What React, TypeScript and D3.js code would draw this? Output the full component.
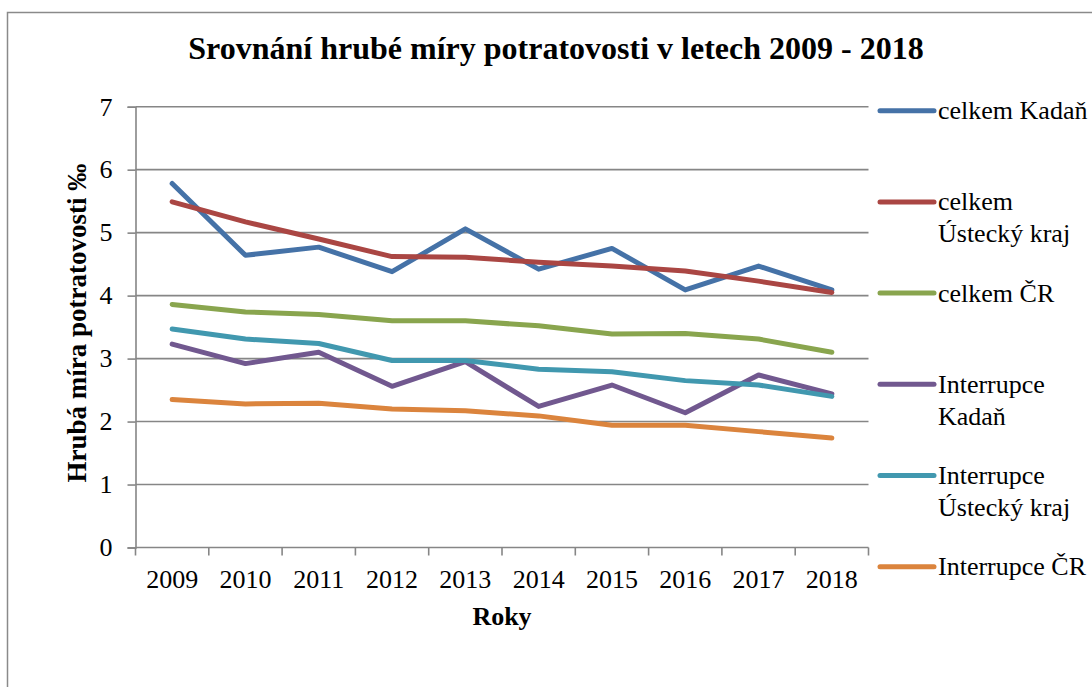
import React, { useEffect, useRef } from 'react';
import * as d3 from 'd3';

// data
const years = ['2009', '2010', '2011', '2012', '2013', '2014', '2015', '2016', '2017', '2018'];
const celkemKadan = [5.78, 4.64, 4.77, 4.38, 5.06, 4.42, 4.75, 4.09, 4.47, 4.09];
const celkemUstecky = [5.49, 5.17, 4.9, 4.62, 4.61, 4.53, 4.47, 4.39, 4.23, 4.05];
const celkemCR = [3.86, 3.74, 3.7, 3.6, 3.6, 3.52, 3.39, 3.4, 3.31, 3.1];
const interKadan = [3.23, 2.92, 3.1, 2.56, 2.95, 2.24, 2.58, 2.14, 2.74, 2.44];
const interUstecky = [3.47, 3.31, 3.24, 2.97, 2.97, 2.83, 2.79, 2.65, 2.58, 2.4];
const interCR = [2.35, 2.28, 2.29, 2.2, 2.17, 2.09, 1.94, 1.94, 1.84, 1.74];
const yTicks = [0, 1, 2, 3, 4, 5, 6, 7];

const seriesNames = [
  ['celkem Kadaň'],
  ['celkem', 'Ústecký kraj'],
  ['celkem ČR'],
  ['Interrupce', 'Kadaň'],
  ['Interrupce', 'Ústecký kraj'],
  ['Interrupce ČR'],
];
const seriesValues = [celkemKadan, celkemUstecky, celkemCR, interKadan, interUstecky, interCR];
const colors = ['#4572A7', '#AA4643', '#89A54E', '#71588F', '#4198AF', '#DB843D'];

const FONT = "'Liberation Serif', 'Times New Roman', serif";
const W = 1092, H = 687;

const Chart = () => {
  const ref = useRef<SVGSVGElement>(null);

  useEffect(() => {
    const svg = d3.select(ref.current);
    svg.selectAll('*').remove();

    const left = 135.5, right = 868.5, top = 106.7, bottom = 547.5;
    const axisColor = '#868686';

    // outer frame of the chart area (runs off the page on the right and bottom)
    svg.append('rect')
      .attr('x', 7.5).attr('y', 12.5)
      .attr('width', W + 20).attr('height', H + 20)
      .attr('fill', '#fff')
      .attr('stroke', '#8a8a8a').attr('stroke-width', 1.5);

    const xScale = d3.scaleBand().domain(years).range([left, right]);
    const yScale = d3.scaleLinear().domain([0, 7]).range([bottom, top]);

    // gridlines
    svg.append('g')
      .selectAll('line')
      .data(yTicks.filter(d => d > 0))
      .enter()
      .append('line')
      .attr('x1', left).attr('x2', right)
      .attr('y1', d => yScale(d)).attr('y2', d => yScale(d))
      .attr('stroke', axisColor).attr('stroke-width', 1.6);

    // y axis
    const yAxis = svg.append('g')
      .attr('transform', `translate(${left},0)`)
      .call(d3.axisLeft(yScale).tickValues(yTicks).tickFormat(d3.format('d')).tickSize(8).tickPadding(15));
    yAxis.select('.domain').attr('stroke', axisColor).attr('stroke-width', 1.6);
    yAxis.selectAll('.tick line').attr('stroke', axisColor).attr('stroke-width', 1.6);
    yAxis.selectAll('.tick text')
      .attr('font-family', FONT).attr('font-size', 26).attr('fill', '#000');

    // x axis, ticks between categories
    const xAxis = svg.append('g')
      .attr('transform', `translate(0,${bottom})`)
      .call(d3.axisBottom(xScale).tickSize(0).tickPadding(22));
    xAxis.select('.domain').remove();
    xAxis.selectAll('.tick text')
      .attr('font-family', FONT).attr('font-size', 26).attr('fill', '#000');
    svg.append('line')
      .attr('x1', left).attr('x2', right).attr('y1', bottom).attr('y2', bottom)
      .attr('stroke', axisColor).attr('stroke-width', 1.6);
    svg.append('g')
      .selectAll('line')
      .data(years.map((y, i) => i).concat([years.length]))
      .enter()
      .append('line')
      .attr('x1', i => left + i * xScale.step()).attr('x2', i => left + i * xScale.step())
      .attr('y1', bottom).attr('y2', bottom + 8)
      .attr('stroke', axisColor).attr('stroke-width', 1.6);

    // series lines
    const line = d3.line<number>()
      .x((d, i) => (xScale(years[i]) as number) + xScale.bandwidth() / 2)
      .y(d => yScale(d));
    seriesValues.forEach((vals, k) => {
      svg.append('path')
        .datum(vals)
        .attr('d', line)
        .attr('fill', 'none')
        .attr('stroke', colors[k])
        .attr('stroke-width', 5)
        .attr('stroke-linecap', 'round')
        .attr('stroke-linejoin', 'round');
    });

    // title
    svg.append('text')
      .text('Srovnání hrubé míry potratovosti v letech 2009 - 2018')
      .attr('x', 556).attr('y', 59)
      .attr('text-anchor', 'middle')
      .attr('font-family', FONT).attr('font-size', 32).attr('font-weight', 'bold');

    // axis titles
    svg.append('text')
      .text('Roky')
      .attr('x', (left + right) / 2).attr('y', 625)
      .attr('text-anchor', 'middle')
      .attr('font-family', FONT).attr('font-size', 26).attr('font-weight', 'bold');
    svg.append('text')
      .text('Hrubá míra potratovosti ‰')
      .attr('transform', `translate(86,${(top + bottom) / 2 - 4}) rotate(-90)`)
      .attr('text-anchor', 'middle')
      .attr('font-family', FONT).attr('font-size', 27).attr('font-weight', 'bold');

    // legend
    const legend = svg.append('g');
    seriesNames.forEach((name, k) => {
      const ly = 110.7 + k * 91.2;
      legend.append('line')
        .attr('x1', 880).attr('x2', 934).attr('y1', ly).attr('y2', ly)
        .attr('stroke', colors[k]).attr('stroke-width', 5).attr('stroke-linecap', 'round');
      const t = legend.append('text')
        .attr('font-family', FONT).attr('font-size', 26);
      name.forEach((part, j) => {
        t.append('tspan').text(part).attr('x', 938).attr('y', ly + 8.5 + j * 31.7);
      });
    });
  }, []);

  return <svg ref={ref} width={W} height={H} style={{ position: 'absolute', left: 0, top: 0, background: '#fff', fontFamily: FONT }} />;
};

const App = () => <Chart />;

export default App;
